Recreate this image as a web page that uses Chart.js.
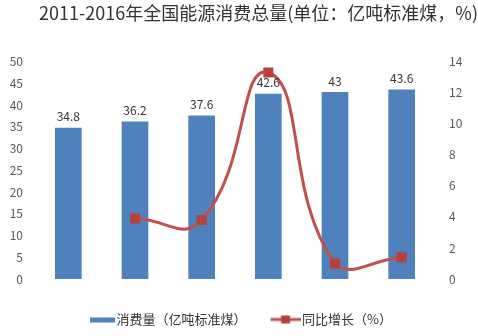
<!DOCTYPE html>
<html>
<head>
<meta charset="utf-8">
<script src="https://cdn.jsdelivr.net/npm/chart.js@4.4.1/dist/chart.umd.min.js"></script>
<style>
  html, body { margin: 0; padding: 0; background: #fff; }
  #wrap { width: 478px; height: 336px; position: relative; }
</style>
</head>
<body>
<div id="wrap"><canvas id="c" width="478" height="336"></canvas></div>
<script>
// Annual national energy consumption and year-on-year growth
const years = ['2011', '2012', '2013', '2014', '2015', '2016'];
const consumption = [34.8, 36.2, 37.6, 42.6, 43, 43.6];      // 亿吨标准煤
const growth = [null, 3.9, 3.8, 13.3, 1.0, 1.4];              // %
const leftTicks = [0, 5, 10, 15, 20, 25, 30, 35, 40, 45, 50];
const rightTicks = [0, 2, 4, 6, 8, 10, 12, 14];

const FONT = '"Noto Sans CJK SC", "Microsoft YaHei", sans-serif';
const BLUE = '#4f81bd';
const RED = '#c0504d';
const RED_DARK = '#b8403d';

// legend swatches: both 34px wide, content right-aligned next to the text
function barSwatch() {
  const c = document.createElement('canvas');
  c.width = 34; c.height = 10;
  const g = c.getContext('2d');
  g.fillStyle = BLUE;
  g.fillRect(9, 3, 25, 5);
  return c;
}
function lineSwatch() {
  const c = document.createElement('canvas');
  c.width = 34; c.height = 10;
  const g = c.getContext('2d');
  g.strokeStyle = RED; g.lineWidth = 3;
  g.beginPath(); g.moveTo(4, 5); g.lineTo(34, 5); g.stroke();
  g.fillStyle = RED_DARK;
  g.fillRect(14.5, 1, 9, 8);
  return c;
}

// value labels above the bars
const barLabels = {
  id: 'barLabels',
  afterDatasetsDraw(chart) {
    const meta = chart.getDatasetMeta(0);
    const ctx = chart.ctx;
    ctx.save();
    ctx.font = '12px ' + FONT;
    ctx.fillStyle = '#333';
    ctx.textAlign = 'center';
    ctx.textBaseline = 'bottom';
    meta.data.forEach((bar, i) => {
      ctx.fillText(String(consumption[i]), bar.x, bar.y - 5);
    });
    ctx.restore();
  }
};

new Chart(document.getElementById('c'), {
  data: {
    labels: years,
    datasets: [
      {
        type: 'bar',
        label: '消费量（亿吨标准煤）',
        data: consumption,
        backgroundColor: BLUE,
        yAxisID: 'y',
        categoryPercentage: 1,
        barPercentage: 0.4,
        order: 2
      },
      {
        type: 'line',
        label: '同比增长（%）',
        data: growth,
        borderColor: RED,
        borderWidth: 3,
        tension: 0.5,
        pointStyle: 'rect',
        pointRadius: 5,
        pointBackgroundColor: RED_DARK,
        pointBorderColor: RED_DARK,
        yAxisID: 'y1',
        order: 1
      }
    ]
  },
  options: {
    responsive: false,
    animation: false,
    events: [],
    layout: { padding: { left: 0, right: 0, top: 0, bottom: 0 } },
    plugins: {
      title: {
        display: true,
        text: '2011-2016年全国能源消费总量(单位：亿吨标准煤，%)',
        align: 'end',
        color: '#333',
        font: { family: FONT, size: 18, weight: 'normal' },
        padding: { top: 2, bottom: 38 }
      },
      legend: {
        position: 'bottom',
        labels: {
          color: '#333',
          font: { family: FONT, size: 13 },
          usePointStyle: true,
          pointStyleWidth: 24,
          padding: 25,
          generateLabels() {
            return [
              { text: '消费量（亿吨标准煤）', pointStyle: barSwatch(), fontColor: '#333', lineWidth: 0, datasetIndex: 0 },
              { text: '同比增长（%）', pointStyle: lineSwatch(), fontColor: '#333', lineWidth: 0, datasetIndex: 1 }
            ];
          }
        }
      },
      tooltip: { enabled: false }
    },
    scales: {
      x: {
        afterFit(s) { s.height = 9; },
        grid: { display: false, drawTicks: false },
        border: { display: false },
        ticks: { color: '#333', font: { family: FONT, size: 12 }, padding: 11 }
      },
      y: {
        position: 'left',
        min: 0, max: 50,
        afterBuildTicks(s) { s.ticks = leftTicks.map(v => ({ value: v })); },
        afterFit(s) { s.width = 35; },
        grid: { display: false, drawTicks: false },
        border: { display: false },
        ticks: { color: '#595959', font: { family: FONT, size: 12 }, padding: 12 }
      },
      y1: {
        position: 'right',
        min: 0, max: 14,
        afterBuildTicks(s) { s.ticks = rightTicks.map(v => ({ value: v })); },
        afterFit(s) { s.width = 43; },
        grid: { display: false, drawTicks: false },
        border: { display: false },
        ticks: { color: '#595959', font: { family: FONT, size: 12 }, padding: 14 }
      }
    }
  },
  plugins: [barLabels]
});
</script>
</body>
</html>
